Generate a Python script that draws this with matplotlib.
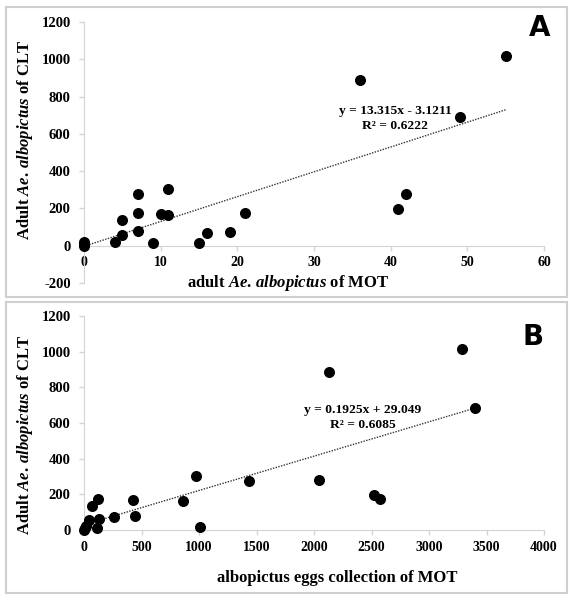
import matplotlib
matplotlib.use("Agg")
import numpy as np
import matplotlib.pyplot as plt
from matplotlib.patches import Rectangle

plt.rcParams["font.family"] = "Liberation Serif"
plt.rcParams["font.weight"] = "bold"
plt.rcParams["mathtext.fontset"] = "custom"
plt.rcParams["mathtext.rm"] = "Liberation Serif:bold"
plt.rcParams["mathtext.it"] = "Liberation Serif:italic:bold"
plt.rcParams["mathtext.bf"] = "Liberation Serif:bold"

# panel A: adult MOT vs adult CLT
mot_adult = [0, 0, 0, 4, 5, 5, 7, 7, 7, 9, 10, 11, 11, 15, 16, 19, 21, 36, 41, 42, 49, 55]
clt_a = [0, 10, 22, 22, 140, 59, 280, 177, 81, 16, 172, 306, 166, 16, 66, 75, 177, 890, 199, 280, 688, 1015]

# panel B: MOT egg collection vs adult CLT
mot_eggs = [0, 5, 15, 43, 70, 122, 130, 113, 261, 426, 443, 861, 974, 1009, 1435,
            2043, 2130, 2522, 2574, 3287, 3400]
clt_b = [0, 10, 20, 56, 134, 174, 62, 11, 73, 168, 78, 162, 302, 17, 274,
         280, 886, 196, 174, 1015, 684]

fit_a = (13.315, -3.1211)
fit_b = (0.1925, 29.049)

fig = plt.figure(figsize=(5.74, 6.0), dpi=100)

border = "#cfcfcf"
axis_gray = "#d4d4d4"

# panel frames
fig.patches.append(Rectangle((6 / 574, 1 - 297 / 600), 561 / 574, 290 / 600,
                             transform=fig.transFigure, fill=False,
                             edgecolor=border, linewidth=1.5))
fig.patches.append(Rectangle((6 / 574, 1 - 593 / 600), 561 / 574, 291 / 600,
                             transform=fig.transFigure, fill=False,
                             edgecolor=border, linewidth=1.5))


def style(ax, xlim, ylim, xticks, yticks):
    ax.set_xlim(xlim)
    ax.set_ylim(ylim)
    ax.set_xticks(xticks)
    ax.set_xticklabels([str(v) for v in xticks], fontweight="bold", fontsize=10.5)
    ax.set_yticks(yticks)
    ax.set_yticklabels([str(v) for v in yticks], fontweight="bold", fontsize=10.5)
    for s in ["top", "right"]:
        ax.spines[s].set_visible(False)
    ax.spines["bottom"].set_position(("data", 0))
    ax.spines["left"].set_color(axis_gray)
    ax.spines["bottom"].set_color(axis_gray)
    ax.tick_params(axis="both", colors=axis_gray, labelcolor="black",
                   length=3.6, width=1, direction="out")
    ax.tick_params(axis="x", pad=4)
    ax.tick_params(axis="y", pad=6)
    ax.patch.set_alpha(0)


ax1 = fig.add_axes([84 / 574, 1 - 283 / 600, 460 / 574, 261 / 600])
style(ax1, (0, 60), (-200, 1200), np.arange(0, 61, 10), np.arange(-200, 1201, 200))
ax1.scatter(mot_adult, clt_a, s=48, color="black", zorder=3, clip_on=False)
xf = np.array([0, max(mot_adult)])
ax1.plot(xf, fit_a[0] * xf + fit_a[1], color="#333333", linestyle=(0, (1, 1)), linewidth=1)
ax1.text(395 / 574, 1 - 111 / 600, "y = 13.315x - 3.1211", transform=fig.transFigure,
         ha="center", va="center", fontsize=9.7)
ax1.text(395 / 574, 1 - 126 / 600, "R² = 0.6222", transform=fig.transFigure,
         ha="center", va="center", fontsize=9.7)
fig.text(540 / 574, 1 - 28 / 600, "A", family="DejaVu Sans", weight="heavy",
         fontsize=20, ha="center", va="center")
fig.text(288 / 574, 1 - 283 / 600, r"adult $\mathit{Ae.\,albopictus}$ of MOT",
         ha="center", va="center", fontsize=12)
fig.text(25 / 574, 1 - 140 / 600, r"Adult $\mathit{Ae.\,albopictus}$ of CLT",
         ha="center", va="center", fontsize=12, rotation=90)

ax2 = fig.add_axes([84 / 574, 1 - 530 / 600, 460 / 574, 214 / 600])
style(ax2, (0, 4000), (0, 1200), np.arange(0, 4001, 500), np.arange(0, 1201, 200))
ax2.scatter(mot_eggs, clt_b, s=48, color="black", zorder=3, clip_on=False)
xf = np.array([0, max(mot_eggs)])
ax2.plot(xf, fit_b[0] * xf + fit_b[1], color="#333333", linestyle=(0, (1, 1)), linewidth=1)
ax2.text(363 / 574, 1 - 410 / 600, "y = 0.1925x + 29.049", transform=fig.transFigure,
         ha="center", va="center", fontsize=9.7)
ax2.text(363 / 574, 1 - 425 / 600, "R² = 0.6085", transform=fig.transFigure,
         ha="center", va="center", fontsize=9.7)
fig.text(533 / 574, 1 - 337 / 600, "B", family="DejaVu Sans", weight="heavy",
         fontsize=20, ha="center", va="center")
fig.text(337 / 574, 1 - 578 / 600, "albopictus eggs collection of MOT",
         ha="center", va="center", fontsize=12)
fig.text(25 / 574, 1 - 435 / 600, r"Adult $\mathit{Ae.\,albopictus}$ of CLT",
         ha="center", va="center", fontsize=12, rotation=90)

fig.savefig("out.png", dpi=100)
